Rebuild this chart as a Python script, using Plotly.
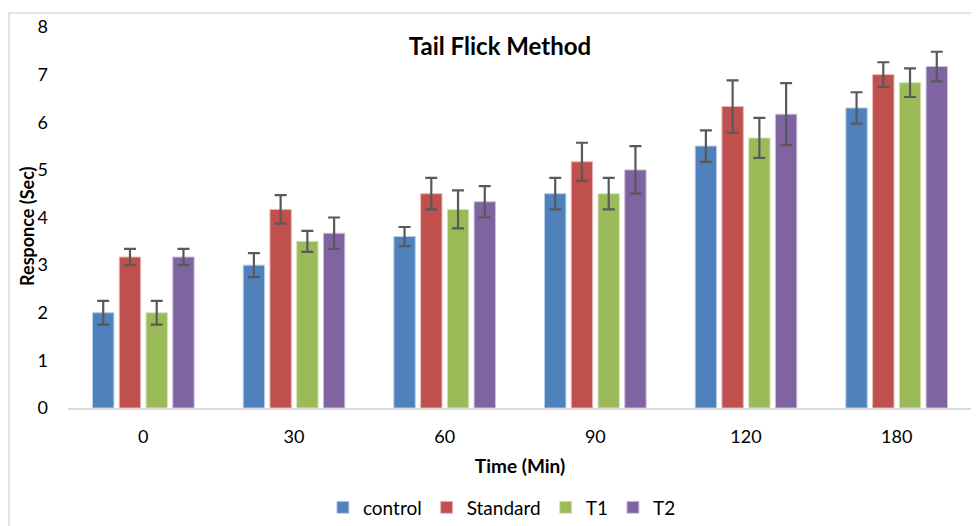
import plotly.graph_objects as go

categories = ["0", "30", "60", "90", "120", "180"]
series_names = ["control", "Standard", "T1", "T2"]
control = [2.0, 3.0, 3.6, 4.5, 5.5, 6.3]
standard = [3.17, 4.17, 4.5, 5.17, 6.33, 7.0]
t1 = [2.0, 3.5, 4.17, 4.5, 5.67, 6.83]
t2 = [3.17, 3.67, 4.33, 5.0, 6.17, 7.17]
control_err = [0.25, 0.25, 0.2, 0.33, 0.33, 0.33]
standard_err = [0.17, 0.3, 0.33, 0.4, 0.55, 0.26]
t1_err = [0.25, 0.22, 0.4, 0.33, 0.42, 0.3]
t2_err = [0.17, 0.33, 0.33, 0.5, 0.65, 0.31]

values = [control, standard, t1, t2]
errors = [control_err, standard_err, t1_err, t2_err]
colors = ["#4F81BD", "#C0504D", "#9BBB59", "#8064A2"]
edge = ["#B9CDE5", "#E6B9B8", "#D7E4BD", "#CCC1DA"]

FONT = "Lato, Carlito, 'Liberation Sans', sans-serif"

# page body adds an 8px offset; figure coords = screen coords - 8
W, H = 971, 526
L, R, T, B = 60, 7, 17, 126
PH = H - T - B
PW = W - L - R

fig = go.Figure()
for name, v, e, c, ec in zip(series_names, values, errors, colors, edge):
    fig.add_trace(go.Bar(
        x=categories, y=v, name=name,
        marker=dict(color=c, line=dict(color=ec, width=1)),
        error_y=dict(type="data", array=e, visible=True,
                     color="#595959", thickness=2.2, width=6),
    ))

fig.update_layout(
    width=W, height=H,
    paper_bgcolor="white", plot_bgcolor="white",
    margin=dict(l=L, r=R, t=T, b=B),
    barmode="group", bargap=0.29, bargroupgap=0.2,
    font=dict(family=FONT, size=18, color="#000000"),
    title=dict(text="<b>Tail Flick Method</b>", x=492 / W, xanchor="center",
               y=1 - 39 / H, yanchor="middle",
               font=dict(family=FONT, size=24, color="#000000")),
    xaxis=dict(type="category", showgrid=False, showline=True,
               linecolor="#D9D9D9", linewidth=2, ticks="",
               tickfont=dict(size=18), ticklabelstandoff=11,
               title=dict(text="<b>Time (Min)</b>", font=dict(size=19), standoff=14)),
    yaxis=dict(range=[0, 8], dtick=1, showgrid=False, showline=False,
               zeroline=False, ticks="", tickfont=dict(size=18),
               ticklabelstandoff=19),
    legend=dict(orientation="h", x=0.48, xanchor="center",
                y=(400 - 500) / PH, yanchor="middle",
                font=dict(size=19), itemwidth=30, traceorder="normal"),
    annotations=[
        dict(text="<b>Responce (Sec)</b>", xref="paper", yref="paper",
             x=(19 - L) / PW, y=1 - (226 - 8 - T) / PH,
             xanchor="center", yanchor="middle", textangle=-90,
             showarrow=False, font=dict(family=FONT, size=18, color="#000000")),
    ],
    shapes=[
        dict(type="line", xref="paper", yref="paper",
             x0=-L / PW, x1=(W - L + 10) / PW,
             y0=1 + (T - 3) / PH, y1=1 + (T - 3) / PH,
             line=dict(color="#D9D9D9", width=1.5)),
        dict(type="line", xref="paper", yref="paper",
             x0=(-L + 1) / PW, x1=(-L + 1) / PW,
             y0=1 + (T - 3) / PH, y1=-(B + 10) / PH,
             line=dict(color="#D9D9D9", width=1.5)),
    ],
)

fig.write_html("out.html")
